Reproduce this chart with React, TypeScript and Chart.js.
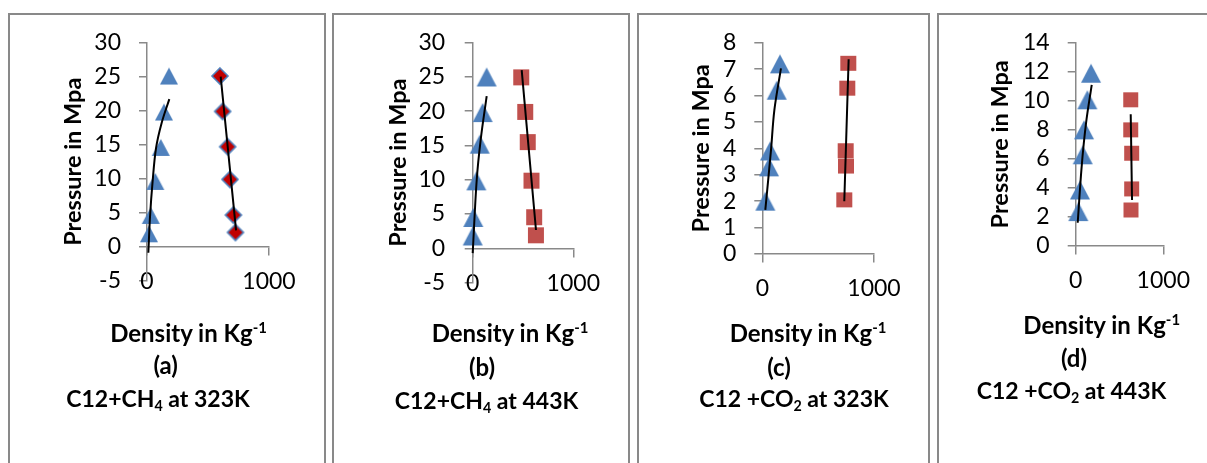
import React, { useEffect, useRef } from 'react';
import { Chart, registerables } from 'chart.js';
Chart.register(...registerables);

const FONT = 'Lato';
const AXIS = '#898989';
const BLUE = '#4F81BD';
const RED_SQ = '#C0504D';
const RED_DIA = '#C00000';

// x tick labels
const xTicks = [0, 1000];

// Panel (a) C12+CH4 at 323K
const aTriX = [180, 139, 113, 68, 31, 16];
const aTriY = [25.1, 19.8, 14.6, 9.6, 4.6, 1.9];
const aDiaX = [598, 620, 661, 680, 708, 725];
const aDiaY = [25.1, 19.9, 14.7, 9.9, 4.66, 2.1];
const aTriFitX = [11, 25, 46, 74, 120, 183];
const aTriFitY = [-0.9, 4.5, 9.6, 14.5, 18.2, 21.7];
const aDiaFitX = [604, 730];
const aDiaFitY = [25, 2.4];

// Panel (b) C12+CH4 at 443K
const bTriX = [139, 99, 70, 36, 6, 0];
const bTriY = [25.0, 19.8, 15.2, 9.85, 4.5, 1.8];
const bSqX = [482, 522, 547, 584, 611, 628];
const bSqY = [24.95, 19.9, 15.5, 9.87, 4.54, 1.9];
const bTriFitX = [0, 40, 79, 139];
const bTriFitY = [-0.7, 10.0, 15.8, 22.2];
const bSqFitX = [487, 629];
const bSqFitY = [26.0, 2.67];

// Panel (c) C12 +CO2 at 323K
const cTriX = [158, 129, 69, 60, 27];
const cTriY = [7.2, 6.2, 3.9, 3.3, 2.0];
const cSqX = [770, 761, 746, 749, 734];
const cSqY = [7.22, 6.28, 3.91, 3.33, 2.05];
const cTriFitX = [27, 78, 108, 167];
const cTriFitY = [1.67, 3.94, 5.45, 7.03];
const cSqFitX = [734, 773];
const cSqFitY = [2.0, 7.37];

// Panel (d) C12 +CO2 at 443K
const dTriX = [175, 133, 95, 80, 49, 30];
const dTriY = [11.9, 10.07, 8.0, 6.28, 3.86, 2.37];
const dSqX = [628, 628, 639, 639, 631];
const dSqY = [10.07, 8.0, 6.39, 3.93, 2.48];
const dTriFitX = [23, 68, 118, 183];
const dTriFitY = [1.6, 5.47, 8.46, 11.1];
const dSqFitX = [643, 628];
const dSqFitY = [3.17, 9.08];

const yTitle = 'Pressure in Mpa';
const xTitle = 'Density in Kg';

const zip = (xs: number[], ys: number[]) => xs.map((x, i) => ({ x, y: ys[i] }));

function makeMarker(kind: string, w: number, h: number, fill: string, stroke?: string) {
  const c = document.createElement('canvas');
  const pad = 2;
  c.width = w + pad * 2;
  c.height = h + pad * 2;
  const ctx = c.getContext('2d')!;
  ctx.fillStyle = fill;
  ctx.beginPath();
  if (kind === 'triangle') {
    ctx.moveTo(pad + w / 2, pad);
    ctx.lineTo(pad + w, pad + h);
    ctx.lineTo(pad, pad + h);
  } else if (kind === 'square') {
    ctx.rect(pad, pad, w, h);
  } else {
    ctx.moveTo(pad + w / 2, pad);
    ctx.lineTo(pad + w, pad + h / 2);
    ctx.lineTo(pad + w / 2, pad + h);
    ctx.lineTo(pad, pad + h / 2);
  }
  ctx.closePath();
  ctx.fill();
  if (stroke) {
    ctx.strokeStyle = stroke;
    ctx.lineWidth = 1.6;
    ctx.stroke();
  }
  return c;
}

type Series = { x: number[]; y: number[]; marker: [string, number, number, string, string?] };
type Spec = {
  cl: number; cw: number; L: number; R: number; T: number; B: number;
  yMin: number; yMax: number; yStep: number; titleOff: number; tickPad: number;
  fits: { x: number[]; y: number[] }[];
  series: Series[];
};

const H = 320;
const YW = 100;
const TICK_FONT = 23;
const YT_FONT = 23.5;

function Panel({ spec }: { spec: Spec }) {
  const ref = useRef<HTMLCanvasElement>(null);
  useEffect(() => {
    const s = spec;
    const datasets: any[] = [];
    s.fits.forEach((f) => {
      datasets.push({
        type: 'line',
        data: zip(f.x, f.y),
        borderColor: '#000',
        borderWidth: 2,
        pointRadius: 0,
        tension: 0.35,
        fill: false,
        clip: false,
      });
    });
    s.series.forEach((sr) => {
      const m = makeMarker(...sr.marker);
      datasets.push({
        type: 'scatter',
        data: zip(sr.x, sr.y),
        pointStyle: m,
        pointRadius: 10,
        showLine: false,
        clip: false,
      });
    });
    const lh = YT_FONT * 1.2;
    const titlePad = YW - s.titleOff - lh / 2;
    const chart = new Chart(ref.current!, {
      type: 'scatter',
      data: { datasets },
      options: {
        animation: false,
        responsive: false,
        events: [],
        layout: {
          padding: { left: s.L - s.cl - YW, right: s.cl + s.cw - s.R, top: s.T, bottom: H - s.B },
        },
        plugins: { legend: { display: false }, tooltip: { enabled: false } },
        scales: {
          x: {
            type: 'linear',
            min: xTicks[0],
            max: xTicks[1],
            position: { y: 0 } as any,
            afterBuildTicks: (sc: any) => {
              sc.ticks = xTicks.map((v) => ({ value: v }));
            },
            grid: { display: true, drawOnChartArea: false, drawTicks: true, tickLength: 8, color: AXIS, lineWidth: 1.5 },
            border: { display: true, color: AXIS, width: 1.5 },
            ticks: {
              padding: 13,
              color: '#000',
              font: { family: FONT, size: TICK_FONT },
              maxRotation: 0,
              autoSkip: false,
              callback: (v: any) => String(v),
            },
          },
          y: {
            type: 'linear',
            min: s.yMin,
            max: s.yMax,
            position: 'left',
            afterFit: (sc: any) => {
              sc.width = YW;
            },
            grid: { display: true, drawOnChartArea: false, drawTicks: true, tickLength: 8, color: AXIS, lineWidth: 1.5 },
            border: { display: true, color: AXIS, width: 1.5 },
            ticks: {
              stepSize: s.yStep,
              autoSkip: false,
              padding: s.tickPad,
              color: '#000',
              font: { family: FONT, size: TICK_FONT },
              callback: (v: any) => String(v),
            },
            title: {
              display: true,
              text: yTitle,
              color: '#000',
              font: { family: FONT, size: YT_FONT, weight: 'bold' },
              padding: { top: titlePad, bottom: 0 },
            },
          },
        },
      },
    });
    return () => chart.destroy();
  }, [spec]);
  return (
    <canvas
      ref={ref}
      width={spec.cw}
      height={H}
      style={{ position: 'absolute', left: spec.cl, top: 0, width: spec.cw, height: H }}
    />
  );
}

const specs: Spec[] = [
  {
    cl: 8, cw: 318, L: 147, R: 269, T: 42.7, B: 280.7, yMin: -5, yMax: 30, yStep: 5, titleOff: 74, tickPad: 18,
    fits: [{ x: aTriFitX, y: aTriFitY }, { x: aDiaFitX, y: aDiaFitY }],
    series: [
      { x: aTriX, y: aTriY, marker: ['triangle', 18, 17, BLUE] },
      { x: aDiaX, y: aDiaY, marker: ['diamond', 16, 16, RED_DIA, BLUE] },
    ],
  },
  {
    cl: 332, cw: 298, L: 472.7, R: 573.3, T: 42.7, B: 282.6, yMin: -5, yMax: 30, yStep: 5, titleOff: 74.7, tickPad: 19.5,
    fits: [{ x: bTriFitX, y: bTriFitY }, { x: bSqFitX, y: bSqFitY }],
    series: [
      { x: bTriX, y: bTriY, marker: ['triangle', 20, 19, BLUE] },
      { x: bSqX, y: bSqY, marker: ['square', 16, 16, RED_SQ] },
    ],
  },
  {
    cl: 637, cw: 293, L: 762.3, R: 874, T: 42.7, B: 254, yMin: 0, yMax: 8, yStep: 1, titleOff: 61, tickPad: 18,
    fits: [{ x: cTriFitX, y: cTriFitY }, { x: cSqFitX, y: cSqFitY }],
    series: [
      { x: cTriX, y: cTriY, marker: ['triangle', 20, 19, BLUE] },
      { x: cSqX, y: cSqY, marker: ['square', 16, 15, RED_SQ] },
    ],
  },
  {
    cl: 937, cw: 270, L: 1075.7, R: 1163.3, T: 42.7, B: 246, yMin: 0, yMax: 14, yStep: 2, titleOff: 75, tickPad: 18,
    fits: [{ x: dTriFitX, y: dTriFitY }, { x: dSqFitX, y: dSqFitY }],
    series: [
      { x: dTriX, y: dTriY, marker: ['triangle', 20, 19, BLUE] },
      { x: dSqX, y: dSqY, marker: ['square', 15, 15, RED_SQ] },
    ],
  },
];

const panels = [
  { left: 8, width: 318 },
  { left: 332, width: 298 },
  { left: 637, width: 293 },
  { left: 937, width: 300 },
];

type Lbl = { cx: number; cy: number; node: React.ReactNode; size: number };

const sup = (t: string) => (
  <span style={{ fontSize: '0.62em', position: 'relative', top: '-0.62em', lineHeight: 0 }}>{t}</span>
);
const sub = (t: string) => (
  <span style={{ fontSize: '0.62em', position: 'relative', top: '0.3em', lineHeight: 0 }}>{t}</span>
);

const densityNode = (
  <>
    {xTitle}
    {sup('-1')}
  </>
);

const labels: Lbl[] = [
  { cx: 188.5, cy: 333, node: densityNode, size: 24 },
  { cx: 165.7, cy: 365, node: '(a)', size: 24 },
  { cx: 158, cy: 398, node: <>C12+CH{sub('4')} at 323K</>, size: 23 },
  { cx: 510, cy: 333, node: densityNode, size: 24 },
  { cx: 482, cy: 367, node: '(b)', size: 24 },
  { cx: 486.5, cy: 400, node: <>C12+CH{sub('4')} at 443K</>, size: 23 },
  { cx: 808, cy: 333, node: densityNode, size: 24 },
  { cx: 779, cy: 367, node: '(c)', size: 24 },
  { cx: 794, cy: 398, node: <>C12 +CO{sub('2')} at 323K</>, size: 23 },
  { cx: 1101.7, cy: 325, node: densityNode, size: 24 },
  { cx: 1074, cy: 358, node: '(d)', size: 24 },
  { cx: 1071.5, cy: 390, node: <>C12 +CO{sub('2')} at 443K</>, size: 23 },
];

export default function App() {
  return (
    <div style={{ position: 'fixed', left: 0, top: 0, width: 1207, height: 463, overflow: 'hidden', background: '#fff' }}>
      {panels.map((p, i) => (
        <div
          key={'p' + i}
          style={{
            position: 'absolute',
            left: p.left,
            top: 13,
            width: p.width,
            height: 520,
            boxSizing: 'border-box',
            border: '2px solid ' + AXIS,
            borderBottom: 'none',
          }}
        />
      ))}
      {specs.map((s, i) => (
        <Panel key={'c' + i} spec={s} />
      ))}
      {labels.map((l, i) => (
        <div
          key={'l' + i}
          style={{
            position: 'absolute',
            left: l.cx - 150,
            width: 300,
            top: l.cy - 15,
            height: 30,
            lineHeight: '30px',
            textAlign: 'center',
            fontFamily: FONT,
            fontWeight: 'bold',
            fontSize: l.size,
            color: '#000',
            whiteSpace: 'nowrap',
          }}
        >
          {l.node}
        </div>
      ))}
    </div>
  );
}
